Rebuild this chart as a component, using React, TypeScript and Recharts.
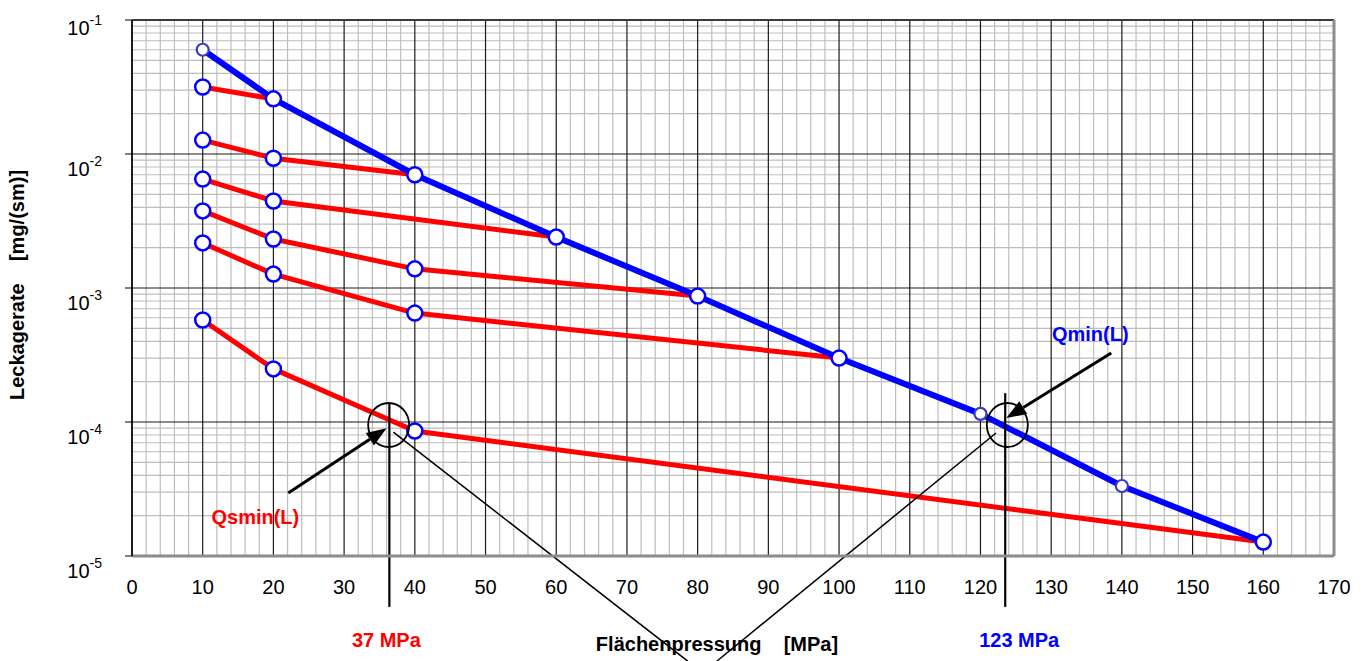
import React from 'react';
import {
  LineChart,
  Line,
  XAxis,
  YAxis,
  CartesianGrid,
  ReferenceLine,
  ReferenceDot,
} from 'recharts';

// ---------- data ----------
const xTicks = [0, 10, 20, 30, 40, 50, 60, 70, 80, 90, 100, 110, 120, 130, 140, 150, 160, 170];
const yTicks = [1e-5, 1e-4, 1e-3, 1e-2, 1e-1];
const xMinor = Array.from({ length: 86 }, (_, i) => i * 2).filter((v) => v % 10 !== 0);
const yMinor = [-5, -4, -3, -2].flatMap((d) => [2, 3, 4, 5, 6, 7, 8, 9].map((m) => m * Math.pow(10, d)));

// Qmin(L) — blue envelope
const qminX = [10, 20, 40, 60, 80, 100, 120, 140, 160];
const qminY = [0.06, 0.0258, 0.007, 0.0024, 0.00087, 0.0003, 0.000115, 0.0000333, 0.0000127];
const qminSmall = [0, 6, 7];

// red curves
const red1X = [10, 20];
const red1Y = [0.0316, 0.0258];
const red2X = [10, 20, 40];
const red2Y = [0.0127, 0.0093, 0.007];
const red3X = [10, 20, 60];
const red3Y = [0.0065, 0.00446, 0.0024];
const red4X = [10, 20, 40, 80];
const red4Y = [0.00376, 0.00232, 0.00139, 0.00087];
const red5X = [10, 20, 40, 100];
const red5Y = [0.00217, 0.00127, 0.00065, 0.0003];
const red6X = [10, 20, 40, 160];
const red6Y = [0.000577, 0.000249, 0.0000857, 0.0000127];

// annotation values
const qsminP = 36.4;
const qminP = 123.5;
const markLevel = 0.000095;

const toPts = (xs: number[], ys: number[]) => xs.map((x, i) => ({ x, y: ys[i] }));
const redSeries = [
  toPts(red1X, red1Y),
  toPts(red2X, red2Y),
  toPts(red3X, red3Y),
  toPts(red4X, red4Y),
  toPts(red5X, red5Y),
  toPts(red6X, red6Y),
];
const qminData = toPts(qminX, qminY);

const FONT = '"Liberation Sans", Arial, Helvetica, sans-serif';

const YTick = (p: any) => {
  const { x, y, payload } = p;
  const exp = Math.round(Math.log10(payload.value));
  const top = exp === -1;
  return (
    <text x={x - 21} y={y + (top ? 15 : 22)} textAnchor="end" fontSize={20} fill="#000" fontFamily={FONT}>
      <tspan>10</tspan>
      <tspan dy={-10} fontSize={14}>{String(exp)}</tspan>
    </text>
  );
};

const makeRedDot = (last: number) => (p: any) => {
  const { cx, cy, index } = p;
  if (index === last || cx == null) return <g key={`rd-${index}`} />;
  return <circle key={`rd-${index}`} cx={cx} cy={cy} r={7.5} fill="#fff" stroke="#0000FF" strokeWidth={2.5} />;
};

const blueDot = (p: any) => {
  const { cx, cy, index } = p;
  if (cx == null) return <g key={`bd-${index}`} />;
  const small = qminSmall.includes(index);
  return (
    <circle
      key={`bd-${index}`}
      cx={cx}
      cy={cy}
      r={small ? 6 : 7.5}
      fill="#fff"
      stroke={small ? '#3a3ac8' : '#0000FF'}
      strokeWidth={small ? 2.2 : 2.5}
    />
  );
};

const Arrow = (p: any) => {
  const { x1, y1, x2, y2 } = p;
  const ang = Math.atan2(y2 - y1, x2 - x1);
  const L = 20;
  const W = 7.5;
  const bx = x2 - L * Math.cos(ang);
  const by = y2 - L * Math.sin(ang);
  const px = -Math.sin(ang) * W;
  const py = Math.cos(ang) * W;
  return (
    <g>
      <line x1={x1} y1={y1} x2={bx} y2={by} stroke="#000" strokeWidth={3} />
      <polygon points={`${x2},${y2} ${bx + px},${by + py} ${bx - px},${by - py}`} fill="#000" />
    </g>
  );
};

const ThinLine = (p: any) => (
  <line x1={p.x1} y1={p.y1} x2={p.x2} y2={p.y2} stroke="#000" strokeWidth={p.sw || 1.5} />
);

const Ell = (p: any) => (
  <ellipse cx={p.cx} cy={p.cy} rx={20.5} ry={22} fill="none" stroke="#000" strokeWidth={1.8} />
);

const makeText = (text: string, color: string, dx: number, dy: number, anchor: string) => (p: any) => (
  <text
    x={p.cx + dx}
    y={p.cy + dy}
    textAnchor={anchor as any}
    fontSize={20}
    fontWeight="bold"
    fill={color}
    fontFamily={FONT}
  >
    {text}
  </text>
);

const XTitle = (p: any) => {
  const vb = p.viewBox || { x: 132, y: 556, width: 1202, height: 105 };
  return (
    <text
      x={vb.x + vb.width / 2 - 16}
      y={vb.y + 95}
      textAnchor="middle"
      fontSize={20}
      fontWeight="bold"
      fill="#000"
      fontFamily={FONT}
    >
      {'Flächenpressung\u00A0\u00A0\u00A0\u00A0[MPa]'}
    </text>
  );
};

const YTitle = (p: any) => {
  const vb = p.viewBox || { x: 52, y: 20, width: 80, height: 536 };
  const x = vb.x - 28;
  const y = vb.y + vb.height / 2 - 3;
  return (
    <text
      x={x}
      y={y}
      transform={`rotate(-90, ${x}, ${y})`}
      textAnchor="middle"
      fontSize={20}
      fontWeight="bold"
      fill="#000"
      fontFamily={FONT}
    >
      {'Leckagerate\u00A0\u00A0\u00A0\u00A0[mg/(sm)]'}
    </text>
  );
};

export default function App() {
  return (
    <div style={{ position: 'absolute', left: 0, top: 0, width: 1370, height: 661, background: '#fff', fontFamily: FONT }}>
      <LineChart width={1370} height={661} margin={{ top: 20, right: 36, left: 52, bottom: 0 }}>
        <CartesianGrid
          verticalValues={xMinor}
          horizontalValues={yMinor}
          stroke="#bdbdbd"
          strokeWidth={1.2}
          syncWithTicks={false}
        />
        <CartesianGrid verticalValues={xTicks} horizontalValues={yTicks} stroke="#1a1a1a" strokeWidth={1.2} />
        <XAxis
          type="number"
          dataKey="x"
          domain={[0, 170]}
          ticks={xTicks}
          interval={0}
          allowDataOverflow
          height={105}
          tickSize={0}
          tickMargin={24}
          tickLine={false}
          axisLine={{ stroke: '#8c8c8c', strokeWidth: 3 }}
          tick={{ fontSize: 20, fill: '#000', fontFamily: FONT }}
          label={<XTitle />}
        />
        <YAxis
          type="number"
          dataKey="y"
          scale="log"
          domain={[1e-5, 1e-1]}
          ticks={yTicks}
          interval={0}
          allowDataOverflow
          width={80}
          tickSize={7}
          tickLine={{ stroke: '#000' }}
          axisLine={{ stroke: '#000', strokeWidth: 1.5 }}
          tick={<YTick />}
          label={<YTitle />}
        />
        <ReferenceLine y={1e-1} stroke="#3a3a3a" strokeWidth={2} />
        <ReferenceLine x={170} stroke="#8c8c8c" strokeWidth={3} />

        {redSeries.map((d, i) => (
          <Line
            key={`red-${i}`}
            data={d}
            dataKey="y"
            type="linear"
            stroke="#FF0000"
            strokeWidth={5}
            strokeLinejoin="round"
            dot={makeRedDot(d.length - 1)}
            activeDot={false}
            isAnimationActive={false}
          />
        ))}
        <Line
          data={qminData}
          dataKey="y"
          type="linear"
          stroke="#0000FF"
          strokeWidth={6}
          strokeLinejoin="round"
          dot={blueDot}
          activeDot={false}
          isAnimationActive={false}
        />

        {/* vertical marker lines */}
        <ReferenceLine
          segment={[{ x: qsminP, y: 0.000139 }, { x: qsminP, y: 0.00000417 }]}
          ifOverflow="visible"
          shape={(p: any) => <ThinLine {...p} sw={2.2} />}
        />
        <ReferenceLine
          segment={[{ x: qminP, y: 0.000164 }, { x: qminP, y: 0.00000417 }]}
          ifOverflow="visible"
          shape={(p: any) => <ThinLine {...p} sw={2.2} />}
        />
        {/* thin diagonal leader lines */}
        <ReferenceLine
          segment={[{ x: 36.97, y: 0.0000841 }, { x: 78.6, y: 0.00000164 }]}
          ifOverflow="visible"
          shape={(p: any) => <ThinLine {...p} sw={1.5} />}
        />
        <ReferenceLine
          segment={[{ x: 122.2, y: 0.0000828 }, { x: 82.7, y: 0.00000164 }]}
          ifOverflow="visible"
          shape={(p: any) => <ThinLine {...p} sw={1.5} />}
        />
        {/* arrows */}
        <ReferenceLine
          segment={[{ x: 22.1, y: 0.0000295 }, { x: 36.0, y: 0.00009 }]}
          ifOverflow="visible"
          shape={Arrow}
        />
        <ReferenceLine
          segment={[{ x: 138.5, y: 0.000327 }, { x: 123.65, y: 0.000107 }]}
          ifOverflow="visible"
          shape={Arrow}
        />
        {/* circles */}
        <ReferenceDot x={36.3} y={markLevel} r={20} ifOverflow="visible" shape={Ell} />
        <ReferenceDot x={123.8} y={markLevel} r={20} ifOverflow="visible" shape={Ell} />
        {/* texts */}
        <ReferenceDot x={qsminP} y={1e-5} r={1} ifOverflow="visible" shape={makeText('37 MPa', '#FF0000', -3, 91, 'middle')} />
        <ReferenceDot x={qminP} y={1e-5} r={1} ifOverflow="visible" shape={makeText('123 MPa', '#0000FF', 14, 91, 'middle')} />
        <ReferenceDot x={22.1} y={0.0000295} r={1} ifOverflow="visible" shape={makeText('Qsmin(L)', '#FF0000', 11, 31, 'end')} />
        <ReferenceDot x={138.5} y={0.000327} r={1} ifOverflow="visible" shape={makeText('Qmin(L)', '#0000FF', -21, -12, 'middle')} />
      </LineChart>
    </div>
  );
}
